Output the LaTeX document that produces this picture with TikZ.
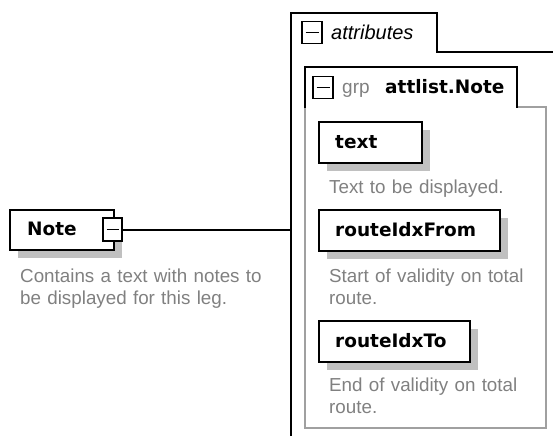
\documentclass[tikz,border=0pt]{standalone}
\usepackage{fontspec}
\setmainfont{Liberation Sans}
\newfontfamily\dvs{DejaVu Sans}
\usetikzlibrary{shadows}
\definecolor{desc}{HTML}{808080}
\definecolor{shadowc}{HTML}{C0C0C0}
\definecolor{innerc}{HTML}{A0A0A0}
\begin{document}
\begin{tikzpicture}[x=1pt,y=-1pt,
  elem/.style={draw=black, line width=2pt, fill=white, inner sep=0pt, anchor=north west,
    minimum height=41pt,
    drop shadow={shadow xshift=8pt, shadow yshift=-8pt, fill=shadowc, opacity=1}},
  elabel/.style={anchor=base west, inner sep=0pt, font=\dvs\bfseries\fontsize{18.5}{20}\selectfont},
  dtext/.style={anchor=base west, inner sep=0pt, text=desc, text width=260pt, align=left,
    font=\fontsize{18.8}{22}\selectfont},
  minusbox/.style={draw=black, line width=1.8pt, fill=white, inner sep=0pt,
    minimum width=20pt, minimum height=22pt,
    path picture={\draw[line width=1.8pt]
      ([xshift=3.5pt]path picture bounding box.west) -- ([xshift=-3.5pt]path picture bounding box.east);}},
  frame/.style={line width=2pt},
  innerframe/.style={line width=2pt, draw=innerc},
]
\useasboundingbox (0,0) rectangle (553,436);

% attributes compartment
\draw[frame] (291,436) -- (291,13) -- (437,13) -- (437,52) -- (553,52);
\node[minusbox] (attrminus) at (312,32.5) {};
\node[anchor=base west, inner sep=0pt, font=\itshape\fontsize{20}{22}\selectfont] (attrlabel) at (331,40) {attributes};

% group attlist.Note
\draw[innerframe] (517,107) -- (546,107) -- (546,428) -- (305,428) -- (305,107);
\draw[frame] (305,108) -- (305,67) -- (517,67) -- (517,108);
\node[minusbox] (grpminus) at (323,87.5) {};
\node[anchor=base west, inner sep=0pt, text=desc, font=\fontsize{19}{22}\selectfont] (grplabel) at (342,93) {grp};
\node[elabel] (grpname) at (385,93) {attlist.Note};

% attributes
\node[elem, minimum width=103pt] (textbox) at (318,121) {};
\node[elabel] (textlabel) at (335,148) {text};
\node[dtext] (textdesc) at (329,193) {Text to be displayed.};

\node[elem, minimum width=181pt] (frombox) at (318,209) {};
\node[elabel] (fromlabel) at (335,236) {routeIdxFrom};
\node[dtext] (fromdesc) at (329,282) {Start of validity on total\\route.};

\node[elem, minimum width=151pt] (tobox) at (318,320) {};
\node[elabel] (tolabel) at (335,347) {routeIdxTo};
\node[dtext] (todesc) at (329,391) {End of validity on total\\route.};

% Note element
\node[elem, minimum width=104pt, minimum height=40pt] (notebox) at (9,209) {};
\node[elabel] (notelabel) at (27,235) {Note};
\node[minusbox, minimum width=19pt, minimum height=23pt] (noteminus) at (112.5,229.5) {};
\node[dtext] (notedesc) at (20,282) {Contains a text with notes to\\be displayed for this leg.};

% connector
\coordinate (attrleft) at (291,229.5);
\draw[frame] (noteminus.east) -- (attrleft);
\end{tikzpicture}
\end{document}
